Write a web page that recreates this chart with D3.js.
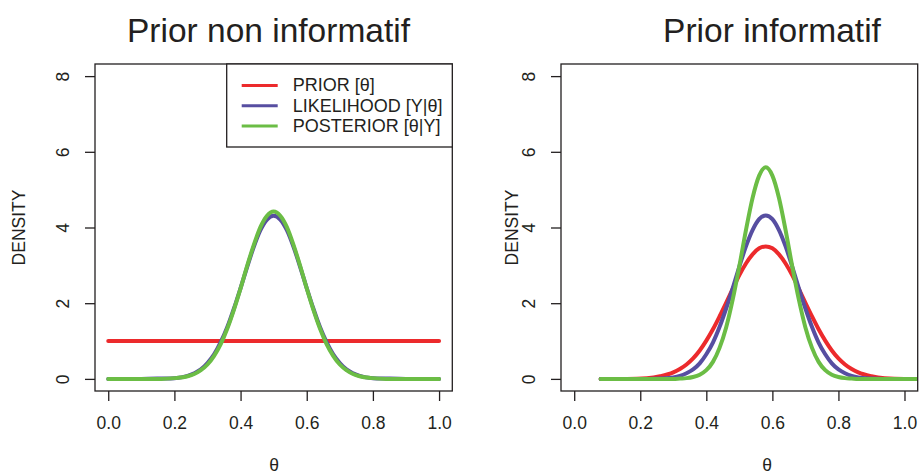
<!DOCTYPE html>
<html>
<head>
<meta charset="utf-8">
<script src="https://cdn.jsdelivr.net/npm/d3@7"></script>
<style>
  html, body { margin:0; padding:0; background:#fff; }
  svg { display:block; font-family:"Liberation Sans", Arial, sans-serif; }
</style>
</head>
<body>
<svg width="919" height="474"></svg>
<script>
// ---------- data ----------
const xTicks = [0, 0.2, 0.4, 0.6, 0.8, 1.0];
const yTicks = [0, 2, 4, 6, 8];
const legendLabels = ["PRIOR [θ]", "LIKELIHOOD [Y|θ]", "POSTERIOR [θ|Y]"];

// left panel : flat prior
const priorLeftTheta = [0, 1];
const priorLeft = [1, 1];
const thetaLeft = [0, 0.10, 0.16, 0.20, 0.24, 0.26, 0.28, 0.30, 0.32, 0.34, 0.36, 0.38, 0.40, 0.42, 0.44, 0.46, 0.48, 0.50,
  0.52, 0.54, 0.56, 0.58, 0.60, 0.62, 0.64, 0.66, 0.68, 0.70, 0.72, 0.74, 0.76, 0.80, 0.84, 0.90, 1.00];
const likLeft = [0, 0, 0.01, 0.02, 0.08, 0.15, 0.25, 0.42, 0.65, 0.97, 1.37, 1.86, 2.40, 2.96, 3.49, 3.93, 4.21, 4.31,
  4.21, 3.93, 3.49, 2.96, 2.40, 1.86, 1.37, 0.97, 0.65, 0.42, 0.25, 0.15, 0.08, 0.02, 0.01, 0, 0];
const postLeft = [0, 0, 0, 0.02, 0.07, 0.13, 0.23, 0.38, 0.61, 0.92, 1.33, 1.83, 2.39, 2.99, 3.54, 4.01, 4.31, 4.42,
  4.31, 4.01, 3.54, 2.99, 2.39, 1.83, 1.33, 0.92, 0.61, 0.38, 0.23, 0.13, 0.07, 0.02, 0, 0, 0];

// right panel : informative prior
const thetaRight = [0.08, 0.16, 0.22, 0.26, 0.30, 0.32, 0.34, 0.36, 0.38, 0.40, 0.42, 0.44, 0.46, 0.48, 0.50, 0.52, 0.54, 0.56, 0.58,
  0.60, 0.62, 0.64, 0.66, 0.68, 0.70, 0.72, 0.74, 0.76, 0.78, 0.80, 0.82, 0.84, 0.86, 0.90, 0.94, 1.00, 1.08];
const priorRight = [0, 0, 0.02, 0.07, 0.17, 0.26, 0.38, 0.54, 0.75, 1.01, 1.31, 1.65, 2.01, 2.38, 2.74, 3.05, 3.29, 3.45, 3.50,
  3.45, 3.29, 3.05, 2.74, 2.38, 2.01, 1.65, 1.31, 1.01, 0.75, 0.54, 0.38, 0.26, 0.17, 0.07, 0.02, 0, 0];
const likRight = [0, 0, 0, 0.01, 0.04, 0.08, 0.15, 0.25, 0.41, 0.65, 0.96, 1.37, 1.86, 2.40, 2.97, 3.50, 3.93, 4.22, 4.32,
  4.22, 3.93, 3.50, 2.97, 2.40, 1.86, 1.37, 0.96, 0.65, 0.41, 0.25, 0.15, 0.08, 0.04, 0.01, 0, 0, 0];
const postRight = [0, 0, 0, 0, 0, 0.01, 0.02, 0.05, 0.11, 0.23, 0.45, 0.82, 1.36, 2.10, 2.98, 3.93, 4.78, 5.37, 5.59,
  5.37, 4.78, 3.93, 2.98, 2.10, 1.36, 0.82, 0.45, 0.23, 0.11, 0.05, 0.02, 0.01, 0, 0, 0, 0, 0];

const COL = { prior:"#ec2a2c", lik:"#574ea1", post:"#6bbd45", ink:"#231f20" };
const FS = 17.5;

const svg = d3.select("svg");

// layout per panel
const PANELS = [
  { id:"p0", title:"Prior non informatif", left:95, right:452.3, titleX:268.5, xlabX:274, ylabX:25, legend:true,
    series:[ {x:priorLeftTheta, y:priorLeft, c:COL.prior}, {x:thetaLeft, y:likLeft, c:COL.lik}, {x:thetaLeft, y:postLeft, c:COL.post} ] },
  { id:"p1", title:"Prior informatif", left:561, right:917.7, titleX:772, xlabX:767, ylabX:517.5, legend:false,
    series:[ {x:thetaRight, y:priorRight, c:COL.prior}, {x:thetaRight, y:likRight, c:COL.lik}, {x:thetaRight, y:postRight, c:COL.post} ] }
];
const TOP = 64, BOT = 391;

const defs = svg.append("defs");

PANELS.forEach(P => {
  const x = d3.scaleLinear().domain([-0.04, 1.04]).range([P.left, P.right]);
  const y = d3.scaleLinear().domain([-0.32, 8.32]).range([BOT, TOP]);
  const g = svg.append("g");

  defs.append("clipPath").attr("id", "clip-" + P.id)
    .append("rect").attr("x", P.left).attr("y", TOP).attr("width", P.right - P.left).attr("height", BOT - TOP);

  // curves
  const line = d3.line().curve(d3.curveMonotoneX);
  const cg = g.append("g").attr("clip-path", `url(#clip-${P.id})`);
  P.series.forEach(s => {
    cg.append("path")
      .attr("d", line(s.x.map((t, i) => [x(t), y(s.y[i])])))
      .attr("fill", "none").attr("stroke", s.c).attr("stroke-width", 4)
      .attr("stroke-linecap", "round").attr("stroke-linejoin", "round");
  });

  // box
  g.append("rect").attr("x", P.left).attr("y", TOP).attr("width", P.right - P.left).attr("height", BOT - TOP)
    .attr("fill", "none").attr("stroke", COL.ink).attr("stroke-width", 1.3);

  // x axis
  const xa = g.append("g").attr("transform", `translate(0,${BOT})`)
    .call(d3.axisBottom(x).tickValues(xTicks).tickSize(10).tickFormat(d3.format(".1f")));
  xa.select(".domain").remove();
  xa.selectAll("line").attr("stroke", COL.ink).attr("stroke-width", 1.3);
  xa.selectAll("text").attr("y", 38.3).attr("dy", null).attr("fill", COL.ink)
    .attr("font-size", FS).attr("font-family", "Liberation Sans, Arial, sans-serif");

  // y axis
  const ya = g.append("g").attr("transform", `translate(${P.left},0)`)
    .call(d3.axisLeft(y).tickValues(yTicks).tickSize(10));
  ya.select(".domain").remove();
  ya.selectAll("line").attr("stroke", COL.ink).attr("stroke-width", 1.3);
  ya.selectAll("text").attr("x", null).attr("dy", null).attr("y", null)
    .attr("text-anchor", "middle").attr("transform", "translate(-26,0) rotate(-90)")
    .attr("fill", COL.ink).attr("font-size", FS).attr("font-family", "Liberation Sans, Arial, sans-serif");

  // titles
  g.append("text").attr("x", P.titleX).attr("y", 42).attr("text-anchor", "middle")
    .attr("fill", COL.ink).attr("font-size", 33.5).text(P.title);
  g.append("text").attr("x", P.xlabX).attr("y", 471).attr("text-anchor", "middle")
    .attr("fill", COL.ink).attr("font-size", FS).text("θ");
  g.append("text").attr("transform", `translate(${P.ylabX},${(TOP + BOT) / 2}) rotate(-90)`)
    .attr("text-anchor", "middle").attr("fill", COL.ink).attr("font-size", FS).text("DENSITY");

  // legend
  if (P.legend) {
    const lg = g.append("g");
    lg.append("rect").attr("x", 226.7).attr("y", TOP).attr("width", P.right - 226.7).attr("height", 83)
      .attr("fill", "#fff").attr("stroke", COL.ink).attr("stroke-width", 1.3);
    legendLabels.forEach((lab, i) => {
      const ly = 85.5 + i * 20.3;
      lg.append("line").attr("x1", 241.7).attr("x2", 277.7).attr("y1", ly).attr("y2", ly)
        .attr("stroke", P.series[i].c).attr("stroke-width", 3);
      lg.append("text").attr("x", 292.7).attr("y", ly + 5.8).attr("fill", COL.ink)
        .attr("font-size", 18).text(lab);
    });
  }
});
</script>
</body>
</html>
